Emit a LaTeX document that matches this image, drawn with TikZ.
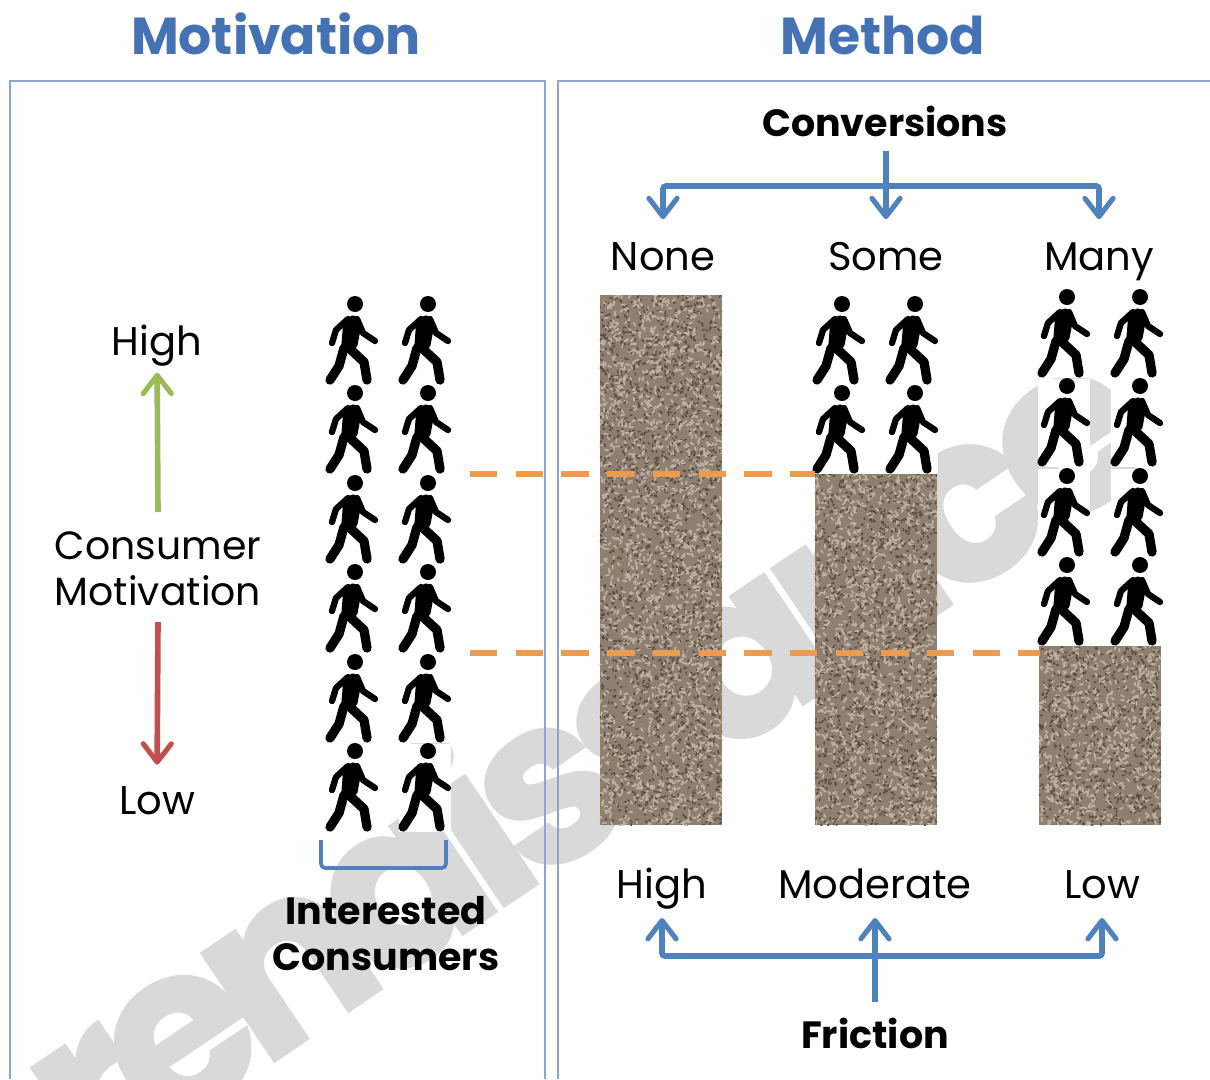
\documentclass[tikz,border=0pt]{standalone}
\usepackage{fontspec}
\setmainfont{Poppins}
\usetikzlibrary{arrows.meta}
\definecolor{friblue}{HTML}{4F81BD}
\definecolor{frametone}{HTML}{8FA6CC}
\definecolor{titleblue}{HTML}{4472B4}
\definecolor{upgreen}{HTML}{9BBB59}
\definecolor{downred}{HTML}{C0504D}
\definecolor{dashorange}{HTML}{ED9B4F}
\definecolor{markgray}{HTML}{D9D9D9}
\definecolor{stonebase}{HTML}{8F7F70}
\definecolor{stonelight}{HTML}{BDB1A2}
\definecolor{stonedark}{HTML}{5A4D42}
\pgfmathsetseed{11}
\tikzset{
  titletext/.style={font=\fontsize{37}{37}\selectfont\bfseries, text=titleblue, text height=26pt, text depth=0pt, inner sep=0pt},
  labeltext/.style={font=\fontsize{28.5}{28.5}\selectfont, text=black, text height=20pt, text depth=0pt, inner sep=0pt},
  headtext/.style={font=\fontsize{27}{27}\selectfont\bfseries, text=black, text height=19pt, text depth=0pt, inner sep=0pt},
  stackplain/.style={font=\fontsize{28}{32.7}\selectfont, text=black, align=center, inner sep=0pt},
  stackbold/.style={font=\fontsize{27}{32.7}\selectfont\bfseries, text=black, align=center, inner sep=0pt},
  chevron/.style={-{Straight Barb[length=13pt,width=20pt,line width=3.6pt,round]}},
  bluearrow/.style={line width=4pt, friblue, chevron},
  greenarrow/.style={line width=4pt, upgreen, chevron},
  redarrow/.style={line width=4pt, downred, chevron},
  blueline/.style={line width=4pt, friblue},
  framepath/.style={line width=1.3pt, frametone},
  dashpath/.style={line width=3.8pt, dashorange, dash pattern=on 19.5pt off 13pt},
  stonebox/.style={draw=none, fill=stonebase, minimum width=3.05cm, minimum height=#1*0.025cm, inner sep=0pt,
    path picture={
      \pgfmathtruncatemacro\stonecount{#1*3.6}
      \foreach \i in {1,...,\stonecount} {
        \draw[stonedark, line width=1.1pt, line cap=round] ({rand*1.525cm},{rand*#1*0.0125cm}) -- ++({rnd*360}:0.05cm);
        \draw[stonelight, line width=1.3pt, line cap=round] ({rand*1.525cm},{rand*#1*0.0125cm}) -- ++({rnd*360}:0.08cm);
      }
    }},
  walker/.pic={
    \fill[white] (-29,-7) rectangle (23,81);
    \fill[black] (0,0) circle (8);
    \fill[black, rounded corners=2pt] (-4,11) -- (1,12) -- (6,23) -- (2,44) -- (-14,46) -- (-12,21) -- cycle;
    \draw[black, line width=4.5pt, line cap=round, line join=round] (-7,15) -- (-19,26) -- (-23,39);
    \draw[black, line width=4.5pt, line cap=round, line join=round] (2,15) -- (8,29) -- (20,37);
    \draw[black, line width=6.6pt, line cap=round, line join=round] (-11,44) -- (-16,62) -- (-25,76);
    \draw[black, line width=6.6pt, line cap=round, line join=round] (-6,44) -- (9,58) -- (12,76);
  }
}
\begin{document}
\begin{tikzpicture}[x=0.025cm, y=-0.025cm]
\useasboundingbox (0,0) rectangle (1210,1079);
\clip (0,0) rectangle (1210,1079);
\fill[white] (0,0) rectangle (1210,1079);

\node[rotate=34, text=markgray, inner sep=0pt, font=\fontsize{165}{165}\selectfont\bfseries\addfontfeature{LetterSpace=-8,FakeBold=1.5}] (watermark) at (578,745) {renaissance};

\draw[framepath] (10,1079) -- (10,81) -- (545,81) -- (545,1079);
\draw[framepath] (558,1079) -- (558,81) -- (1210,81);

\node[titletext] (motivation) at (276,36) {Motivation};
\node[titletext] (method) at (883,36) {Method};

\node[labeltext] (motivhigh) at (157,341) {High};
\node[labeltext] (motivlow) at (157,800) {Low};
\node[stackplain] (consumer) at (158,569) {Consumer\\Motivation};
\draw[greenarrow, shorten >=12.4pt] (consumer.north |- 0,512) -- (motivhigh.south);
\draw[redarrow, shorten >=15pt] (consumer.south |- 0,622) -- (motivlow.north);

\pic at (355,304) {walker};
\pic at (428,304) {walker};
\pic at (355,393) {walker};
\pic at (428,393) {walker};
\pic at (355,483) {walker};
\pic at (428,483) {walker};
\pic at (355,572) {walker};
\pic at (428,572) {walker};
\pic at (355,662) {walker};
\pic at (428,662) {walker};
\pic at (355,751) {walker};
\pic at (428,751) {walker};

\draw[line width=2.6pt, friblue, rounded corners=3pt] (321,840) -- (321,868) -- (446,868) -- (446,840);
\node[stackbold] (interested) at (386,934) {Interested\\Consumers};

\pic at (842,304) {walker};
\pic at (915,304) {walker};
\pic at (842,393) {walker};
\pic at (915,393) {walker};

\pic at (1067,297) {walker};
\pic at (1140,297) {walker};
\pic at (1067,386) {walker};
\pic at (1140,386) {walker};
\pic at (1067,476) {walker};
\pic at (1140,476) {walker};
\pic at (1067,565) {walker};
\pic at (1140,565) {walker};

\node[stonebox=530] (stonenone) at (661,560) {};
\node[stonebox=351] (stonesome) at (876,649.5) {};
\node[stonebox=179] (stonemany) at (1100,735.5) {};

\coordinate (dashtop) at (470,474);
\coordinate (dashlow) at (470,653);
\coordinate (dashtopend) at (815,474);
\coordinate (dashlowend) at (1040,653);
\draw[dashpath] (dashtop) -- (dashtopend);
\draw[dashpath] (dashlow) -- (dashlowend);

\node[headtext] (conversions) at (885,123) {Conversions};
\node[labeltext] (none) at (663,256) {None};
\node[labeltext] (some) at (886,256) {Some};
\node[labeltext] (many) at (1099,256) {Many};
\coordinate (conversionsbus) at (886,186);
\draw[blueline, shorten <=10.5pt] (conversions.south -| conversionsbus) -- (conversionsbus);
\draw[bluearrow, shorten >=16pt, rounded corners=2pt] (conversionsbus) -| (none.north);
\draw[bluearrow, shorten >=16pt] (conversionsbus) -- (some.north);
\draw[bluearrow, shorten >=16pt, rounded corners=2pt] (conversionsbus) -| (many.north);

\node[labeltext] (frichigh) at (662,884) {High};
\node[labeltext] (fricmoderate) at (875,884) {Moderate};
\node[labeltext] (friclow) at (1102,884) {Low};
\node[headtext] (friction) at (875,1035) {Friction};
\coordinate (frictionbus) at (875,956);
\draw[blueline, shorten <=14pt] (friction.north) -- (frictionbus);
\draw[bluearrow, shorten >=14pt, rounded corners=2pt] (frictionbus) -| (frichigh.south);
\draw[bluearrow, shorten >=14pt] (frictionbus) -- (fricmoderate.south);
\draw[bluearrow, shorten >=14pt, rounded corners=2pt] (frictionbus) -| (friclow.south);
\end{tikzpicture}
\end{document}
